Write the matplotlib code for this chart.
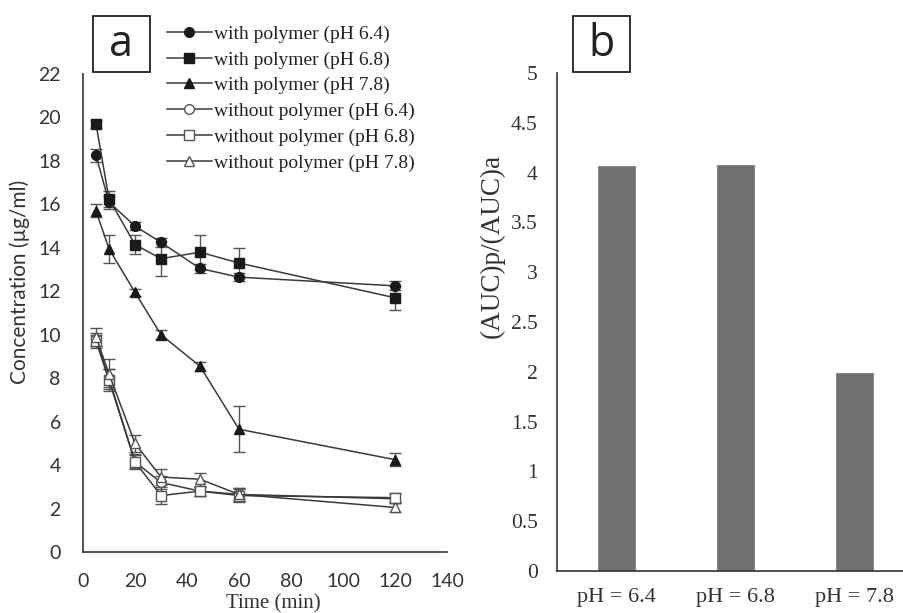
import matplotlib
matplotlib.use("Agg")
import matplotlib.pyplot as plt
from matplotlib.patches import Rectangle

# panel a: concentration over time
time_min = [5, 10, 20, 30, 45, 60, 120]
series_labels = ["with polymer (pH 6.4)", "with polymer (pH 6.8)", "with polymer (pH 7.8)",
                 "without polymer (pH 6.4)", "without polymer (pH 6.8)", "without polymer (pH 7.8)"]
with_64 = [18.25, 16.1, 15.0, 14.25, 13.05, 12.65, 12.25]
with_64_err = [0.3, 0.3, 0.2, 0.2, 0.2, 0.2, 0.2]
with_68 = [19.7, 16.25, 14.15, 13.5, 13.8, 13.3, 11.7]
with_68_err = [0.2, 0.35, 0.45, 0.8, 0.8, 0.7, 0.55]
with_78 = [15.7, 13.95, 11.95, 10.0, 8.55, 5.65, 4.25]
with_78_err = [0.3, 0.65, 0.15, 0.2, 0.2, 1.05, 0.3]
wo_64 = [9.8, 8.0, 4.15, 3.2, 2.8, 2.65, 2.45]
wo_64_err = [0.3, 0.4, 0.3, 0.3, 0.2, 0.3, 0.2]
wo_68 = [9.7, 7.9, 4.15, 2.6, 2.8, 2.6, 2.5]
wo_68_err = [0.3, 0.5, 0.35, 0.4, 0.2, 0.3, 0.2]
wo_78 = [9.9, 8.2, 5.0, 3.45, 3.35, 2.65, 2.05]
wo_78_err = [0.4, 0.7, 0.4, 0.35, 0.3, 0.3, 0.2]

# panel b: AUC ratio
ph_labels = ["pH = 6.4", "pH = 6.8", "pH = 7.8"]
auc_ratio = [4.07, 4.08, 1.99]

W, H = 904, 613
fig = plt.figure(figsize=(W / 100, H / 100), dpi=100)
serif = "Liberation Serif"
sans = "Lato"


def px_axes(x0, y0, x1, y1):
    return fig.add_axes([x0 / W, 1 - y1 / H, (x1 - x0) / W, (y1 - y0) / H])


ax = px_axes(83, 74, 447, 552)
series = [
    (with_64, with_64_err, "o", "#1a1a1a"),
    (with_68, with_68_err, "s", "#1a1a1a"),
    (with_78, with_78_err, "^", "#1a1a1a"),
    (wo_64, wo_64_err, "o", "white"),
    (wo_68, wo_68_err, "s", "white"),
    (wo_78, wo_78_err, "^", "white"),
]
handles = []
for (y, e, m, fc), lab in zip(series, series_labels):
    ec = "#1a1a1a" if fc != "white" else "#555555"
    ax.errorbar(time_min, y, yerr=e, fmt="none", ecolor="#555555", elinewidth=1.0,
                capsize=4, capthick=1.0, zorder=2)
    ln, = ax.plot(time_min, y, color="#3a3a3a", lw=1.1, marker=m,
                  ms=7 if m != "s" else 7.5, mfc=fc, mec=ec, mew=1.0, label=lab, zorder=3)
    handles.append(ln)

ax.set_xlim(0, 140)
ax.set_ylim(0, 22)
ax.set_xticks(range(0, 141, 20))
ax.set_yticks(range(0, 23, 2))
for s in ["top", "right"]:
    ax.spines[s].set_visible(False)
for s in ["left", "bottom"]:
    ax.spines[s].set_color("#333333")
    ax.spines[s].set_linewidth(1.2)
ax.tick_params(length=0, labelsize=14, colors="#333333")
ax.tick_params(axis="y", pad=16)
ax.tick_params(axis="x", pad=15)
for t in ax.get_xticklabels() + ax.get_yticklabels():
    t.set_fontfamily(sans)
fig.text(20 / W, 1 - 282 / H, "Concentration (µg/ml)", rotation=90, ha="center", va="center",
         fontfamily=sans, fontsize=15, color="#333333")
fig.text(273 / W, 1 - 594 / H, "Time (min)", ha="center", va="top",
         fontfamily=serif, fontsize=15, color="#333333")

leg = fig.legend(handles=handles, loc="upper left", bbox_to_anchor=(167 / W, 1 - 25 / H),
                 frameon=False, prop={"family": serif, "size": 14}, handlelength=2.3,
                 handletextpad=0.1, labelspacing=0.42, borderpad=0, borderaxespad=0)
for t in leg.get_texts():
    t.set_color("#222222")

# panel b
bx = px_axes(557, 73, 914, 571)
xs = list(range(len(ph_labels)))
bx.bar(xs, auc_ratio, width=0.31, color="#707070", edgecolor="#8a8a8a", linewidth=0.8)
bx.set_xlim(-0.5, 2.5)
bx.set_ylim(0, 5)
bx.set_yticks([0, 0.5, 1, 1.5, 2, 2.5, 3, 3.5, 4, 4.5, 5])
bx.set_yticklabels(["0", "0.5", "1", "1.5", "2", "2.5", "3", "3.5", "4", "4.5", "5"])
bx.set_xticks(xs)
bx.set_xticklabels(ph_labels)
for s in ["top", "right"]:
    bx.spines[s].set_visible(False)
for s in ["left", "bottom"]:
    bx.spines[s].set_color("#333333")
    bx.spines[s].set_linewidth(1.2)
bx.tick_params(length=0, labelsize=15.5, colors="#333333")
bx.tick_params(axis="y", pad=14)
bx.tick_params(axis="x", labelsize=16, pad=12)
for t in bx.get_xticklabels() + bx.get_yticklabels():
    t.set_fontfamily(serif)
fig.text(492 / W, 1 - 246 / H, "(AUC)p/(AUC)a", rotation=90, ha="center", va="center",
         fontfamily=serif, fontsize=19.5, color="#333333")

# boxed panel letters
for (x0, x1), letter in [((93, 150), "a"), ((573, 630), "b")]:
    fig.patches.append(Rectangle((x0 / W, 1 - 72 / H), (x1 - x0) / W, 56 / H,
                                 transform=fig.transFigure, fill=False,
                                 edgecolor="#222222", lw=1.3))
    fig.text((x0 + x1) / 2 / W, 1 - 45 / H, letter, ha="center", va="center",
             fontsize=31, fontfamily="Open Sans", color="#222222")

fig.savefig("out.png", dpi=100)
